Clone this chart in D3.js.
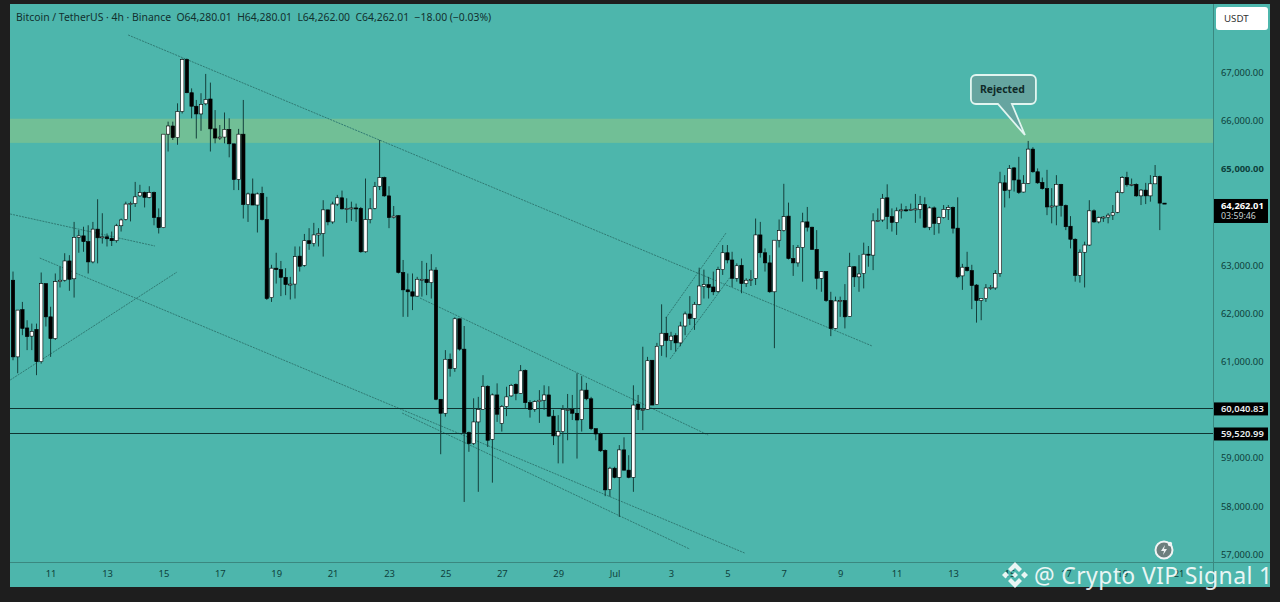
<!DOCTYPE html>
<html>
<head>
<meta charset="utf-8">
<script src="https://cdn.jsdelivr.net/npm/d3@7"></script>
<style>
  html, body { margin: 0; padding: 0; background: #1e1e1e; }
  svg { display: block; }
  text { font-family: "Noto Sans", "Open Sans", sans-serif; }
</style>
</head>
<body>
<div id="chart"></div>
<script>
// 4h candles
const opens = [
  62680,61090,62070,61690,61520,61660,60990,62610,61920,61470,62650,62680,63080,62710,63570,63600,63480,63060,63740,63560,
  63580,63550,63500,63810,63940,64260,64270,64430,64500,64400,64500,63980,63770,65710,65880,65640,66180,67260,66570,66290,
  66130,66340,66440,65820,65630,65650,65810,65510,64770,65710,64250,64470,64240,64480,63940,62320,62930,62900,62740,62590,
  62600,63180,62990,63500,63440,63620,63650,64140,63890,64260,64390,64160,64170,64180,64170,63270,63940,64170,64630,64810,
  64430,63980,64020,62840,62480,62440,62350,62700,62700,62630,62890,60210,59920,61040,60850,61880,61250,59520,59290,59740,
  60000,60480,59380,60300,59710,60060,60280,60520,60330,60810,60140,60000,60160,60190,60300,59860,59450,59540,60000,60000,
  59920,59790,60400,60220,59600,59490,59150,58340,58780,58590,59160,58740,58590,60110,60000,60000,61020,60100,61320,61580,
  61430,61530,61380,61730,61980,61890,62180,62550,62590,62540,62450,62900,63250,63100,62720,62990,62610,62680,62720,63620,
  63250,63040,62440,63510,63710,64010,63130,63040,63360,63890,63780,63320,62720,62860,62260,61680,62250,62260,61930,62960,
  62750,62820,63220,63200,63910,63930,64390,64000,63880,64120,64140,64130,64150,64150,64250,63780,64180,63860,63980,64150,
  64190,63760,62770,62950,62880,62580,62260,62300,62520,62520,62820,64700,64550,65010,64760,64510,64690,65400,64930,64710,
  64580,64200,64220,64670,64230,63800,63530,62780,63260,63410,64120,63890,63980,63990,64030,64090,64500,64810,64660,64670,
  64430,64550,64430,64680,64830,64280.01
];
const highs = [
  62860,62060,62230,61850,61780,61780,62840,62610,62130,62820,62960,63240,63200,63890,63720,63790,63820,63890,64360,64070,
  63650,63690,63850,63960,64310,64310,64720,64660,64520,64630,64520,64170,65710,65970,65970,66350,67280,67280,66660,66420,
  66560,66960,66780,66210,65900,66160,66040,65510,65820,66420,64500,64790,64500,64620,64410,63000,63250,63080,62930,62750,
  63380,63380,63640,63760,63870,63760,64340,64140,64310,64450,64540,64380,64310,64270,64200,64790,64380,64720,65590,64830,
  64630,64220,64030,63100,62820,62820,62750,63080,63040,63220,62950,60210,61230,61160,61910,61880,61730,59540,60230,60260,
  60710,60500,60330,60540,60090,60470,60530,60540,60920,60830,60190,60190,60400,60500,60480,59990,59880,60090,60320,60300,
  60750,60690,60550,60260,59600,59520,59170,58810,58810,59260,59420,59050,60500,60300,61300,61090,61020,61380,62180,61920,
  61610,61580,61820,62030,62350,62230,62940,62900,62750,62860,62960,63410,63410,63270,63030,63130,62720,62890,63960,63890,
  63340,63200,63510,63940,64680,64290,63410,63410,64080,64200,63790,63720,62860,62870,62440,62340,62340,62600,63250,62970,
  63200,63460,63390,64070,64170,64470,64670,64170,64190,64270,64220,64270,64470,64430,64400,64210,64210,64000,64240,64240,
  64210,64400,63020,63270,63000,62600,62300,62600,62580,62890,64930,64860,65070,65030,65240,64860,65570,65440,65000,64810,
  64970,64590,64860,64680,64250,64010,63550,63320,63480,64340,64150,64000,64010,64070,64240,64540,64840,64930,64790,64690,
  64570,64700,64860,65070,64850,64280.01
];
const lows = [
  61020,60750,61540,61230,61230,60710,60950,61720,61090,61440,62530,62650,62460,62320,63250,63270,62820,63030,63030,63440,
  63380,63390,63460,63690,63920,63900,64200,64410,64190,64380,63820,63650,63760,65350,65590,65490,66140,66560,66040,65620,
  65780,66310,65350,65520,65590,65520,65230,64550,64550,63960,63890,64240,63670,63920,62270,62230,62610,62350,62370,62280,
  62300,62860,62960,63310,63380,63380,63170,63820,63850,64220,64150,63870,63910,63890,63250,63250,63860,64150,64550,64410,
  63760,63960,62820,61920,61920,62060,62340,62340,62370,62300,60190,59070,59850,60680,60780,61220,58080,59120,59260,58290,
  59990,59220,58480,59740,59540,59860,60260,60190,60320,60020,59830,59950,59720,59990,59850,59260,58880,58880,59360,59780,
  58980,59540,60190,59570,59360,59120,58200,58190,58570,57770,58730,58570,58290,59780,59570,59990,60090,60090,61110,61080,
  61230,61200,61310,61540,61750,61650,62160,62300,62300,62370,62420,62790,63030,62540,62650,62410,62540,62560,62580,63150,
  62860,62420,61270,63360,63690,63110,62770,62960,62650,63690,63310,62490,62440,62230,61520,61660,61920,61680,61920,62540,
  62440,62510,62960,62890,63890,63890,63740,63690,63620,63960,64100,64120,63870,63960,63760,63720,63620,63650,63960,63930,
  63650,62720,62480,62860,62080,61800,61850,62230,62480,62480,62750,64190,64380,64520,64470,64500,64680,64910,64680,64560,
  64030,63860,63820,64000,63720,63340,62650,62630,62530,63390,63870,63860,63890,63860,63930,64070,64480,64620,64630,64410,
  64240,64260,64310,64680,63720,64262
];
const closes = [
  61090,62060,61680,61510,61620,60990,62610,61920,61470,62650,62680,63080,62700,63570,63600,63480,63060,63740,63560,63580,
  63540,63500,63810,63930,64260,64270,64410,64500,64400,64500,63980,63770,65710,65880,65640,66180,67260,66570,66290,66130,
  66330,66430,65820,65630,65650,65810,65510,64770,65710,64250,64470,64240,64470,63940,62300,62930,62900,62740,62590,62600,
  63170,62970,63500,63440,63620,63650,64140,63890,64260,64390,64160,64170,64180,64170,63270,63940,64160,64620,64810,64430,
  63980,64010,62840,62480,62440,62350,62700,62700,62630,62890,60210,59920,61040,60850,61880,61250,59520,59290,59740,60000,
  60480,59360,60300,59900,60060,60260,60500,60330,60800,60140,60000,60160,60190,60300,59860,59450,59540,60000,60000,59920,
  59780,60400,60220,59600,59490,59140,58330,58780,58590,59160,58740,58590,60090,60000,60000,61010,60090,61310,61580,61430,
  61520,61380,61730,61980,61890,62180,62560,62590,62530,62440,62900,63250,63100,62720,62980,62610,62680,62700,63620,63250,
  63040,62440,63510,63710,64000,63130,63040,63360,63890,63780,63320,62720,62860,62260,61680,62250,62260,61920,62960,62750,
  62810,63220,63200,63910,63920,64380,64000,63880,64120,64140,64130,64150,64160,64250,63780,64180,63860,63980,64150,64190,
  63760,62750,62950,62880,62570,62260,62300,62520,62530,62820,64700,64540,65000,64760,64500,64690,65400,64930,64700,64580,
  64200,64220,64670,64230,63790,63530,62780,63260,63410,64120,63890,63980,63990,64030,64080,64500,64810,64660,64670,64430,
  64550,64430,64680,64830,64280,64262.01
];

const priceTicks = [67000, 66000, 65000, 63000, 62000, 61000, 59000, 58000, 57000];
const dayLabels = ["11","13","15","17","19","21","23","25","27","29","Jul","3","5","7","9","11","13","15","17","19","21"];
const dayIndexes = d3.range(8, 249, 12);

// zone and horizontal levels
const zone = [66030, 65530];
const levels = [60040.83, 59520.99];

// trendlines: start bar, start price, end bar, end price
const trendlines = [
  [24.5, 67768, 182.8, 61315],
  [-0.6, 64054, 30.2, 63390],
  [-0.6, 60609, 34.9, 62850],
  [5.7, 63140, 155.7, 57019],
  [82.8, 59924, 144, 57102],
  [86.6, 62310, 147.9, 59468],
  [138.9, 61896, 151.7, 63659],
  [139.8, 61045, 152.6, 62746]
];
const lastPrice = 64262.01;
const countdown = "03:59:46";
const rejectedAt = [215.3, 65651];

const width = 1280, height = 602;
const plot = { left: 10, right: 1213, top: 4, bottom: 562 };
const frame = { right: 1270, bottom: 587 };

const x = d3.scaleLinear().domain([0, 245]).range([13, 1164.5]);
const y = d3.scaleLinear().domain([57000, 67000]).range([554, 72]);

// the tags sit a little under the scale in the picture
const tagShift = 1.5;

const svg = d3.select("#chart").append("svg")
  .attr("width", width)
  .attr("height", height);

svg.append("rect").attr("width", width).attr("height", height).attr("fill", "#1e1e1e");
svg.append("rect")
  .attr("x", plot.left).attr("y", plot.top)
  .attr("width", frame.right - plot.left).attr("height", frame.bottom - plot.top)
  .attr("fill", "#4db6ac");

svg.append("defs").append("clipPath").attr("id", "plot-clip")
  .append("rect")
  .attr("x", plot.left).attr("y", plot.top)
  .attr("width", plot.right - plot.left).attr("height", plot.bottom - plot.top);

const main = svg.append("g").attr("clip-path", "url(#plot-clip)");

// resistance zone
main.append("rect")
  .attr("x", plot.left).attr("width", plot.right - plot.left)
  .attr("y", y(zone[0])).attr("height", y(zone[1]) - y(zone[0]))
  .attr("fill", "#71bf96");

// trendlines
main.append("g").selectAll("line")
  .data(trendlines)
  .join("line")
  .attr("x1", d => x(d[0])).attr("y1", d => y(d[1]))
  .attr("x2", d => x(d[2])).attr("y2", d => y(d[3]))
  .attr("stroke", "#2f7a73")
  .attr("stroke-width", 1)
  .attr("stroke-dasharray", "2 1");

// horizontal levels
main.append("g").selectAll("line")
  .data(levels)
  .join("line")
  .attr("x1", plot.left).attr("x2", plot.right)
  .attr("y1", d => y(d) + tagShift).attr("y2", d => y(d) + tagShift)
  .attr("stroke", "#0f3431")
  .attr("stroke-width", 1)
  .attr("shape-rendering", "crispEdges");

// candles
const candles = main.append("g").selectAll("g")
  .data(d3.range(opens.length))
  .join("g");

candles.append("line")
  .attr("x1", i => x(i)).attr("x2", i => x(i))
  .attr("y1", i => y(highs[i])).attr("y2", i => y(lows[i]))
  .attr("stroke", "#14403c")
  .attr("stroke-width", 1);

const bodyWidth = 3.4;
candles.append("rect")
  .attr("x", i => x(i) - bodyWidth / 2)
  .attr("width", bodyWidth)
  .attr("y", i => y(Math.max(opens[i], closes[i])))
  .attr("height", i => Math.max(1, Math.abs(y(opens[i]) - y(closes[i]))))
  .attr("fill", i => closes[i] >= opens[i] ? "#ffffff" : "#000000")
  .attr("stroke", "#000000")
  .attr("stroke-width", 0.6);

// axes
const yAxis = d3.axisRight(y)
  .tickValues(priceTicks)
  .tickSize(0)
  .tickPadding(0)
  .tickFormat(d => d3.format(",.2f")(d));
const yAxisG = svg.append("g")
  .attr("transform", `translate(${plot.right + 8},0.3)`)
  .call(yAxis);
yAxisG.select(".domain").remove();
yAxisG.selectAll("text")
  .attr("font-size", 9.4)
  .attr("font-weight", d => d === 65000 ? 700 : 400)
  .attr("fill", "#0e3f3b");

const xAxis = d3.axisBottom(x)
  .tickValues(dayIndexes)
  .tickSize(0)
  .tickPadding(0)
  .tickFormat((d, i) => dayLabels[i]);
const xAxisG = svg.append("g")
  .attr("transform", `translate(0,${plot.bottom + 8.5})`)
  .call(xAxis);
xAxisG.select(".domain").remove();
xAxisG.selectAll("text")
  .attr("font-size", 9.4)
  .attr("fill", "#0e3f3b");

// axis borders
svg.append("line")
  .attr("x1", plot.right + 0.5).attr("x2", plot.right + 0.5)
  .attr("y1", plot.top).attr("y2", frame.bottom)
  .attr("stroke", "#3a8880");
svg.append("line")
  .attr("x1", plot.left).attr("x2", frame.right)
  .attr("y1", plot.bottom + 0.5).attr("y2", plot.bottom + 0.5)
  .attr("stroke", "#3a8880");

// black price tags on the axis
const tag = svg.append("g").selectAll("g")
  .data(levels)
  .join("g");
tag.append("rect")
  .attr("x", plot.right + 1).attr("width", 54)
  .attr("y", d => y(d) + tagShift - 6.5).attr("height", 13)
  .attr("fill", "#000000");
tag.append("text")
  .attr("x", plot.right + 8)
  .attr("y", d => y(d) + tagShift + 3.2)
  .attr("font-size", 9.4)
  .attr("font-weight", 600)
  .attr("fill", "#e8eeee")
  .text(d => d3.format(",.2f")(d));

svg.append("rect")
  .attr("x", plot.right + 1).attr("width", 54)
  .attr("y", y(lastPrice) + tagShift - 6.5).attr("height", 24)
  .attr("fill", "#000000");
svg.append("text")
  .attr("x", plot.right + 8).attr("y", y(lastPrice) + tagShift + 3.2)
  .attr("font-size", 9.4).attr("font-weight", 700).attr("fill", "#ffffff")
  .text(d3.format(",.2f")(lastPrice));
svg.append("text")
  .attr("x", plot.right + 8).attr("y", y(lastPrice) + tagShift + 14)
  .attr("font-size", 8.8).attr("fill", "#c8d2d2")
  .text(countdown);

// USDT button
svg.append("rect")
  .attr("x", 1216).attr("y", 7).attr("width", 52).attr("height", 23).attr("rx", 3)
  .attr("fill", "#ffffff");
svg.append("text")
  .attr("x", 1224).attr("y", 21.5)
  .attr("font-size", 9.7).attr("fill", "#333333")
  .text("USDT");

// title line
svg.append("text")
  .attr("x", 16).attr("y", 21)
  .attr("font-size", 10.4)
  .attr("fill", "#12302e")
  .attr("xml:space", "preserve")
  .text("Bitcoin / TetherUS \u00b7 4h \u00b7 Binance  O64,280.01  H64,280.01  L64,262.00  C64,262.01  \u221218.00 (\u22120.03%)");

// Rejected callout, drawn round the point it marks
const tipX = x(rejectedAt[0]), tipY = y(rejectedAt[1]);
const callout = svg.append("g").attr("transform", `translate(${tipX},${tipY})`);
callout.append("path")
  .attr("d", "M-49,-62 h55 a5,5 0 0 1 5,5 v19 a5,5 0 0 1 -5,5 h-19 L0,-2 L-27,-33 h-22 a5,5 0 0 1 -5,-5 v-19 a5,5 0 0 1 5,-5 Z")
  .attr("fill", "#66a5a0")
  .attr("stroke", "#e2f5f0")
  .attr("stroke-width", 1.8);
callout.append("text")
  .attr("x", -22.5).attr("y", -44.5)
  .attr("text-anchor", "middle")
  .attr("font-size", 10.4)
  .attr("font-weight", 700)
  .attr("fill", "#0f2a28")
  .text("Rejected");

// lightning badge
const badge = svg.append("g").attr("transform", "translate(1164,550)");
badge.append("circle").attr("r", 8.5).attr("fill", "#6d7f7d").attr("stroke", "#f0f4f4").attr("stroke-width", 2);
badge.append("path").attr("d", "M1,-5 L-3,1 L0,1 L-1,5 L3,-1 L0,-1 Z").attr("fill", "#f0f4f4");
badge.append("circle").attr("cx", 6).attr("cy", -6).attr("r", 2.2).attr("fill", "#f0f4f4");

// watermark
const mark = svg.append("g").attr("opacity", 0.88);
const diamond = mark.append("g").attr("transform", "translate(1015,575)").attr("fill", "#ffffff");
diamond.append("path").attr("d", "M0,-13 L7,-6 L4,-3 L0,-7 L-4,-3 L-7,-6 Z");
diamond.append("path").attr("d", "M0,13 L7,6 L4,3 L0,7 L-4,3 L-7,6 Z");
diamond.append("path").attr("d", "M-13,0 L-9.5,-3.5 L-6,0 L-9.5,3.5 Z");
diamond.append("path").attr("d", "M13,0 L9.5,-3.5 L6,0 L9.5,3.5 Z");
diamond.append("path").attr("d", "M0,-3 L3,0 L0,3 L-3,0 Z");
mark.append("text")
  .attr("x", 1034).attr("y", 584)
  .attr("font-size", 23)
  .attr("letter-spacing", 0.35)
  .attr("fill", "#ffffff")
  .text("@ Crypto VIP Signal 1");
</script>
</body>
</html>
